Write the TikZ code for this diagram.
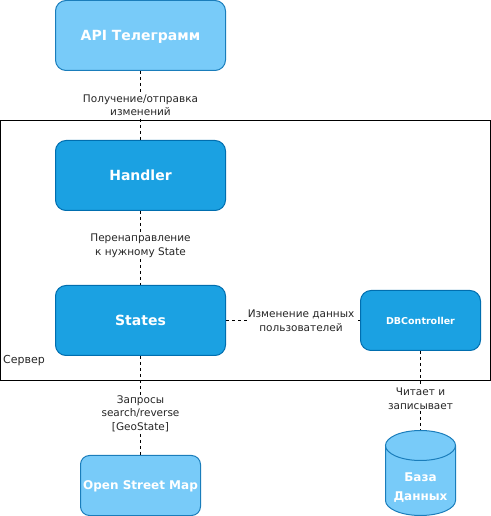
\documentclass[tikz,border=0pt]{standalone}
\usepackage{fontspec}
\setmainfont{DejaVu Sans}
\usetikzlibrary{positioning}
\definecolor{lightfill}{HTML}{78CBF9}
\definecolor{lightline}{HTML}{1A7DBB}
\definecolor{darkfill}{HTML}{1BA1E2}
\definecolor{darkline}{HTML}{006EAF}
\tikzset{
  block/.style={draw,line width=1bp,rounded corners=10.5bp,inner sep=0pt,text=white,
    text depth=0pt,font=\fontsize{14bp}{17bp}\selectfont\bfseries,align=center},
  lightblock/.style={block,fill=lightfill,draw=lightline},
  darkblock/.style={block,fill=darkfill,draw=darkline},
  link/.style={draw,dashed,line width=.8bp,dash pattern=on 3bp off 3bp},
  linklabel/.style={fill=white,inner sep=.5bp,align=center,text=black!85,
    font=\fontsize{10.5bp}{13.5bp}\selectfont},
  rim/.style={x radius=35bp,y radius=15bp},
}
\begin{document}
\begin{tikzpicture}
  \useasboundingbox (0,0) rectangle (491bp,516bp);
  % Node: telegram
  \node (telegram) [lightblock,minimum width=170bp,minimum height=70bp] at (140.5bp,480.5bp) {API Телеграмм};
  % Node: handler
  \node (handler) [darkblock,minimum width=170bp,minimum height=70bp] at (140.5bp,340.5bp) {Handler};
  % Node: states
  \node (states) [darkblock,minimum width=170bp,minimum height=70bp] at (140.5bp,195.5bp) {States};
  % Node: dbcontroller
  \node (dbcontroller) [darkblock,minimum width=120bp,minimum height=60bp,font=\fontsize{9.5bp}{12bp}\selectfont\bfseries] at (420.5bp,195.5bp) {DBController};
  % Node: openstreetmap
  \node (openstreetmap) [lightblock,minimum width=120bp,minimum height=60bp,rounded corners=9bp,font=\fontsize{12bp}{14bp}\selectfont\bfseries] at (140.5bp,30.5bp) {Open Street Map};
  % Node: database
  \path [fill=lightfill,draw=lightline,line width=1bp] (385.5bp,70.5bp) -- (385.5bp,15.5bp)
    arc [start angle=180,end angle=360,rim] -- (455.5bp,70.5bp)
    arc [start angle=0,end angle=180,rim] arc [start angle=180,end angle=360,rim];
  \node (database) [inner sep=0pt,minimum width=70bp,minimum height=85bp] at (420.5bp,43bp) {};
  \node (databaselabel) [text=white,inner sep=0pt,align=center,font=\fontsize{12bp}{19bp}\selectfont\bfseries] at (420.5bp,28bp) {База\\Данных};
  % Edge: telegram -> handler
  \path [link] (telegram) -- node [linklabel] {Получение/отправка\\изменений} (handler);
  % Edge: handler -> states
  \path [link] (handler) -- node [linklabel,pos=.47] {Перенаправление\\к нужному State} (states);
  % Edge: states -> dbcontroller
  \path [link] (states) -- node [linklabel,pos=.56] {Изменение данных\\пользователей} (dbcontroller);
  % Edge: states -> openstreetmap
  \path [link] (states) -- node [linklabel,pos=.58] {Запросы\\search/reverse\\{[GeoState]}} (openstreetmap);
  % Edge: dbcontroller -> database
  \path [link] (dbcontroller) -- node [linklabel,pos=.6] {Читает и\\записывает} (database);
  % Node: server
  \node (server) [draw=black,line width=1bp,inner sep=0pt,minimum width=490bp,minimum height=260bp] at (245.5bp,265.5bp) {};
  \node (serverlabel) [font=\fontsize{11bp}{14bp}\selectfont,inner sep=0pt,anchor=south west,text=black!85] at (3bp,150bp) {Сервер};
\end{tikzpicture}
\end{document}
